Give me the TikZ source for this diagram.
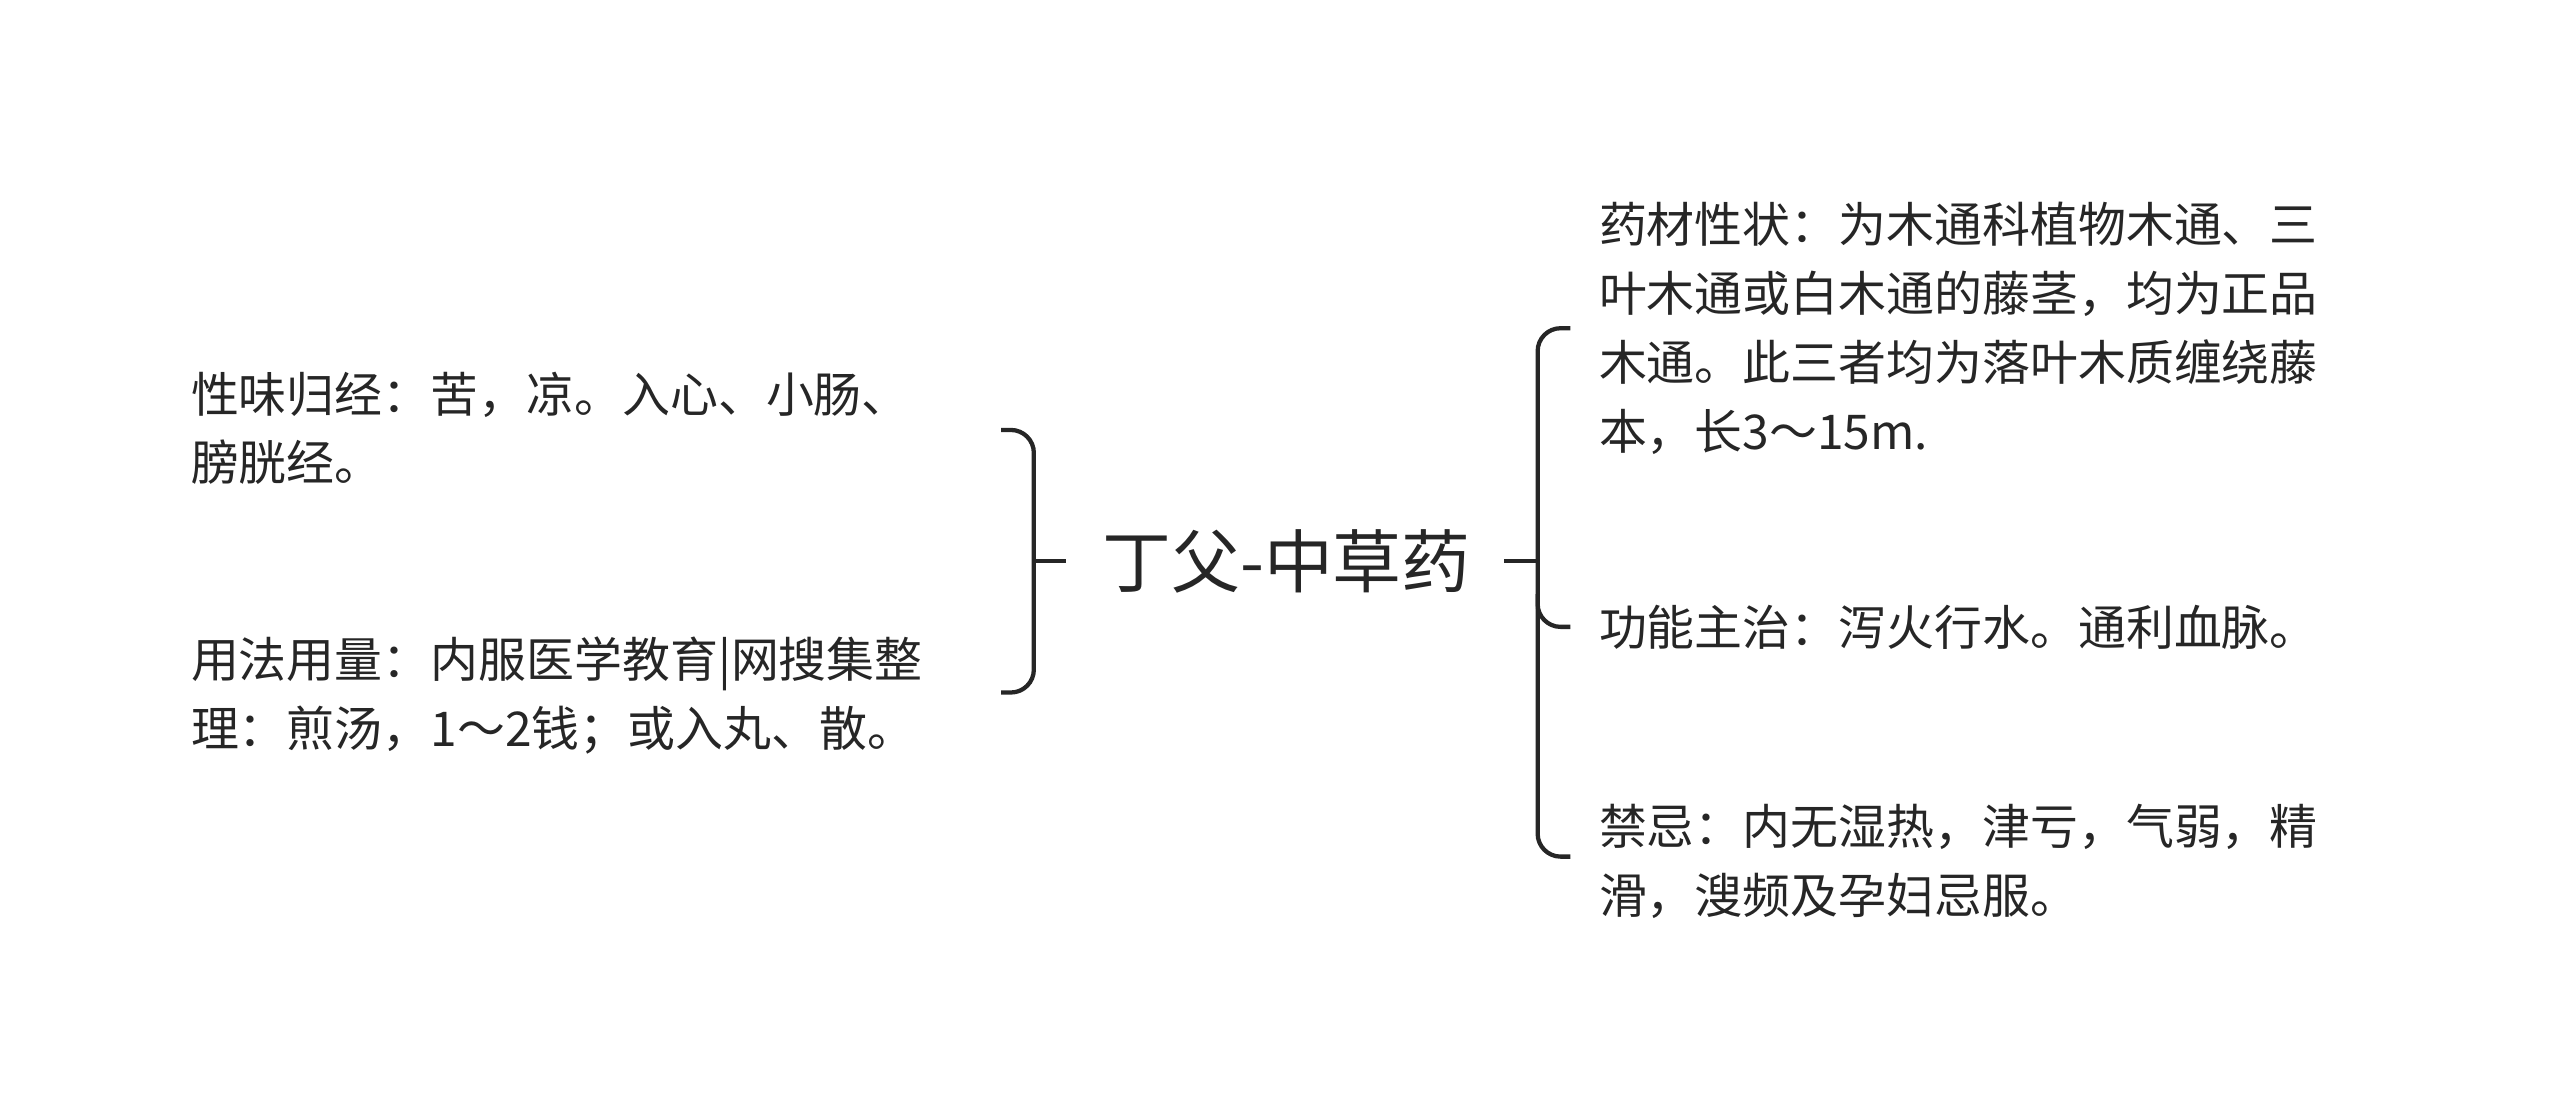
\documentclass[tikz,border=0pt]{standalone}
\usepackage{fontspec}
\setmainfont{Noto Sans CJK SC}
\usetikzlibrary{positioning}
\tikzset{
  leaf/.style={anchor=west, inner sep=0pt, font=\fontsize{14.6}{21}\selectfont, text=black!85, align=left},
  link/.style={draw=black!85, line width=1.3pt, rounded corners=7pt}
}
\begin{document}
\begin{tikzpicture}[x=0.5pt, y=-0.5pt]
\useasboundingbox (0,0) rectangle (1560,680);

\node[inner sep=0pt, font=\fontsize{21}{24}\selectfont, text=black!85] (root) at (784,342) {丁父-中草药};

\node[leaf] (L1) at (116,261) {性味归经：苦，凉。入心、小肠、\\膀胱经。};
\node[leaf] (L2) at (116,424) {用法用量：内服医学教育|网搜集整\\理：煎汤，1～2钱；或入丸、散。};

\node[leaf] (R1) at (974,200) {药材性状：为木通科植物木通、三\\叶木通或白木通的藤茎，均为正品\\木通。此三者均为落叶木质缠绕藤\\本，长3～15m.};
\node[leaf] (R2) at (974,382) {功能主治：泻火行水。通利血脉。};
\node[leaf] (R3) at (974,525) {禁忌：内无湿热，津亏，气弱，精\\滑，溲频及孕妇忌服。};

\coordinate (lj) at (630,342);
\coordinate (rj) at (937,342);

% left brace
\draw[link] (root.west) ++(-22,0) -- (lj);
\draw[link] (610,262) -- (630,262) -- (630,422) -- (610,422);

% right brace
\draw[link] (root.east) ++(20,0) -- (rj);
\draw[link] (957,200) -- (937,200) -- (937,522) -- (957,522);
\draw[link] (937,362) -- (937,382) -- (957,382);
\end{tikzpicture}
\end{document}
